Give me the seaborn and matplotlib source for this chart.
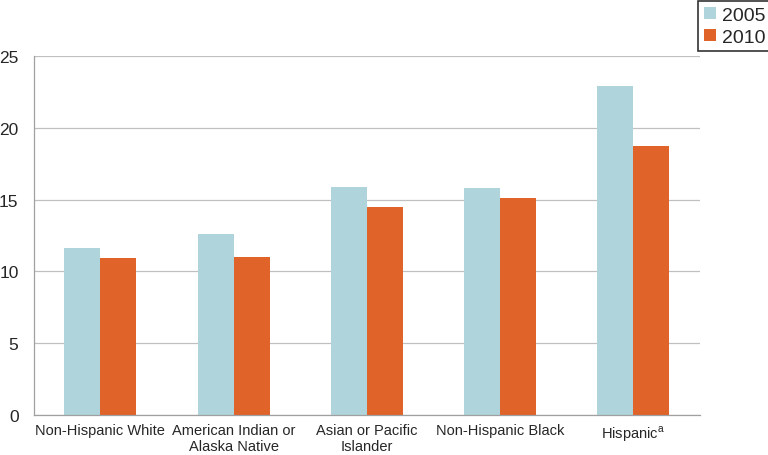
import matplotlib
matplotlib.use("Agg")
import matplotlib.pyplot as plt
import numpy as np
import pandas as pd
import seaborn as sns

categories = [
    "Non-Hispanic White",
    "American Indian or\nAlaska Native",
    "Asian or Pacific\nIslander",
    "Non-Hispanic Black",
    "Hispanic$^{\\mathrm{a}}$",
]
years = ["2005", "2010"]
values_2005 = [11.6, 12.6, 15.9, 15.8, 22.9]
values_2010 = [10.9, 11.0, 14.5, 15.1, 18.7]
colors = ["#afd4dc", "#e0632a"]

df = pd.DataFrame({
    "category": categories * 2,
    "year": [years[0]] * 5 + [years[1]] * 5,
    "value": values_2005 + values_2010,
})

sns.set_style("white")
plt.rcParams["font.family"] = ["Liberation Sans", "DejaVu Sans"]
plt.rcParams["mathtext.fontset"] = "custom"
plt.rcParams["mathtext.rm"] = "Liberation Sans"

fig = plt.figure(figsize=(7.68, 4.56), dpi=100)
ax = fig.add_axes([0.044, 0.088, 0.867, 0.787])

sns.barplot(data=df, x="category", y="value", hue="year", palette=colors,
            width=0.54, saturation=1, linewidth=0, ax=ax, legend=True)

ax.set_ylim(0, 25)
ax.set_xlim(-0.5, len(categories) - 0.5)
ax.set_yticks(np.arange(0, 26, 5))
ax.yaxis.grid(True, color="#c0c0c0", linewidth=0.9)
ax.set_axisbelow(True)
ax.set_xlabel("")
ax.set_ylabel("")

for side in ["top", "right"]:
    ax.spines[side].set_visible(False)
for side in ["left", "bottom"]:
    ax.spines[side].set_color("#a0a0a0")
    ax.spines[side].set_linewidth(0.9)

ax.tick_params(axis="y", length=5, color="#a0a0a0", labelsize=12.5, pad=6)
ax.tick_params(axis="x", which="major", length=0, labelsize=10.5, pad=6)
ax.set_xticks(np.arange(-0.5, len(categories)), minor=True)
ax.tick_params(axis="x", which="minor", length=5, color="#a0a0a0")

leg = ax.legend(loc="upper right", bbox_to_anchor=(1.004, 0.996),
                bbox_transform=fig.transFigure, borderaxespad=0, frameon=True,
                fancybox=False, edgecolor="black", fontsize=14, handlelength=0.6,
                handleheight=0.6, handletextpad=0.3, borderpad=0.3, labelspacing=0.25)
leg.get_frame().set_linewidth(1.2)

fig.savefig("out.png", dpi=100)
